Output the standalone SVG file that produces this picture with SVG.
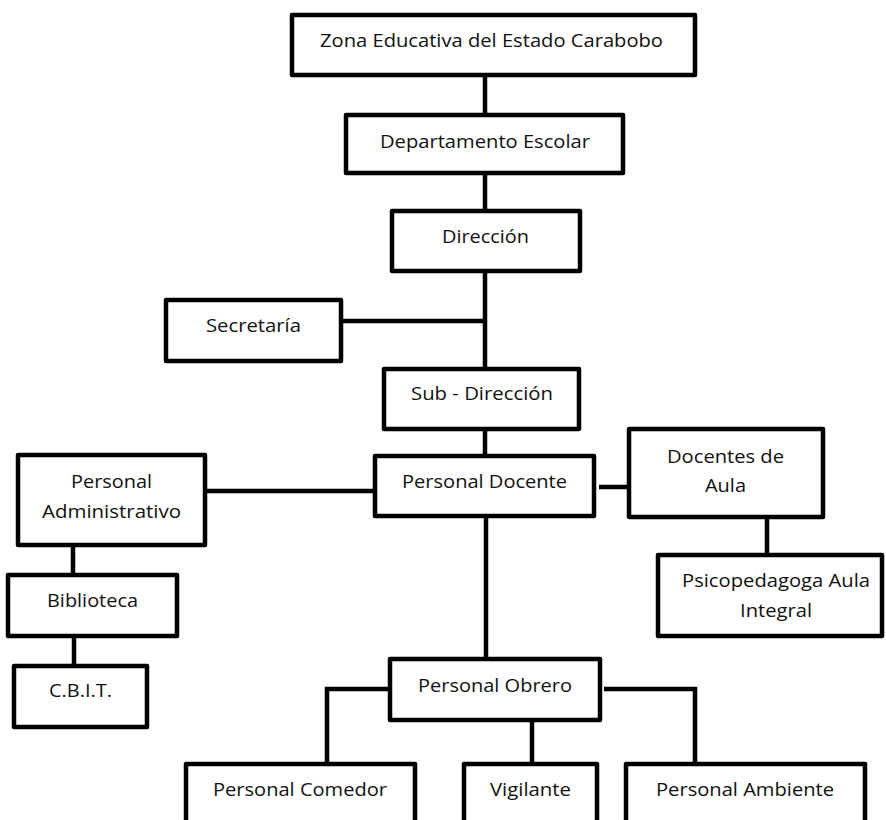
<svg xmlns="http://www.w3.org/2000/svg" width="886" height="820" viewBox="0 0 886 820">
<style>
.box{fill:#fff;stroke:#000;stroke-width:4.5;stroke-linejoin:round}
.t{font-family:"Open Sans","Noto Sans","Liberation Sans",sans-serif;font-size:18px;fill:#111;text-anchor:middle}
.c{fill:none;stroke:#000;stroke-width:4.5}
</style>
<rect width="886" height="820" fill="#fff"/>
<g id="connectors">
<line class="c" x1="485" y1="77" x2="485" y2="113"/>
<line class="c" x1="485" y1="175" x2="485" y2="209"/>
<line class="c" x1="485" y1="273" x2="485" y2="367"/>
<line class="c" x1="343" y1="321" x2="485" y2="321"/>
<line class="c" x1="485" y1="431" x2="485" y2="454"/>
<line class="c" x1="207" y1="491" x2="373" y2="491"/>
<line class="c" x1="599" y1="487" x2="627" y2="487"/>
<line class="c" x1="767" y1="519" x2="767" y2="553"/>
<line class="c" x1="73" y1="547" x2="73" y2="573"/>
<line class="c" x1="74" y1="638" x2="74" y2="664"/>
<line class="c" x1="486" y1="518" x2="486" y2="657"/>
<path class="c" d="M388,689 H327 V762"/>
<line class="c" x1="532" y1="722" x2="532" y2="762"/>
<path class="c" d="M604,689 H695 V762"/>
</g>
<g id="zona"><rect class="box" x="292" y="15" width="403" height="60"/><text class="t" x="491.5" y="47" textLength="343" lengthAdjust="spacingAndGlyphs">Zona Educativa del Estado Carabobo</text></g>
<g id="departamento"><rect class="box" x="346" y="115" width="277" height="58"/><text class="t" x="485" y="148" textLength="210" lengthAdjust="spacingAndGlyphs">Departamento Escolar</text></g>
<g id="direccion"><rect class="box" x="392" y="211" width="188" height="60"/><text class="t" x="485.5" y="243" textLength="87" lengthAdjust="spacingAndGlyphs">Dirección</text></g>
<g id="secretaria"><rect class="box" x="166" y="300" width="175" height="61"/><text class="t" x="253.5" y="332" textLength="95" lengthAdjust="spacingAndGlyphs">Secretaría</text></g>
<g id="subdireccion"><rect class="box" x="384" y="369" width="195" height="60"/><text class="t" x="482" y="400" textLength="142" lengthAdjust="spacingAndGlyphs">Sub - Dirección</text></g>
<g id="administrativo"><rect class="box" x="18" y="455" width="187" height="90"/><text class="t" x="111.5" y="488" textLength="81" lengthAdjust="spacingAndGlyphs">Personal</text><text class="t" x="111.5" y="518" textLength="139" lengthAdjust="spacingAndGlyphs">Administrativo</text></g>
<g id="docente"><rect class="box" x="375" y="456" width="219" height="60"/><text class="t" x="484.5" y="488" textLength="165" lengthAdjust="spacingAndGlyphs">Personal Docente</text></g>
<g id="docentesaula"><rect class="box" x="629" y="429" width="194" height="88"/><text class="t" x="725.5" y="463" textLength="117" lengthAdjust="spacingAndGlyphs">Docentes de</text><text class="t" x="725.5" y="492" textLength="41" lengthAdjust="spacingAndGlyphs">Aula</text></g>
<g id="psicopedagoga"><rect class="box" x="658" y="555" width="224" height="81"/><text class="t" x="776" y="587" textLength="188" lengthAdjust="spacingAndGlyphs">Psicopedagoga Aula</text><text class="t" x="776" y="617" textLength="72" lengthAdjust="spacingAndGlyphs">Integral</text></g>
<g id="biblioteca"><rect class="box" x="8" y="575" width="169" height="61"/><text class="t" x="92.5" y="607" textLength="91" lengthAdjust="spacingAndGlyphs">Biblioteca</text></g>
<g id="cbit"><rect class="box" x="14" y="666" width="133" height="61"/><text class="t" x="80.5" y="697" textLength="63" lengthAdjust="spacingAndGlyphs">C.B.I.T.</text></g>
<g id="obrero"><rect class="box" x="390" y="659" width="210" height="61"/><text class="t" x="495" y="692" textLength="154" lengthAdjust="spacingAndGlyphs">Personal Obrero</text></g>
<g id="comedor"><rect class="box" x="186" y="764" width="229" height="80"/><text class="t" x="300" y="796" textLength="174" lengthAdjust="spacingAndGlyphs">Personal Comedor</text></g>
<g id="vigilante"><rect class="box" x="464" y="764" width="133" height="80"/><text class="t" x="530.5" y="796" textLength="81" lengthAdjust="spacingAndGlyphs">Vigilante</text></g>
<g id="ambiente"><rect class="box" x="626" y="764" width="239" height="80"/><text class="t" x="745" y="796" textLength="178" lengthAdjust="spacingAndGlyphs">Personal Ambiente</text></g>
</svg>
